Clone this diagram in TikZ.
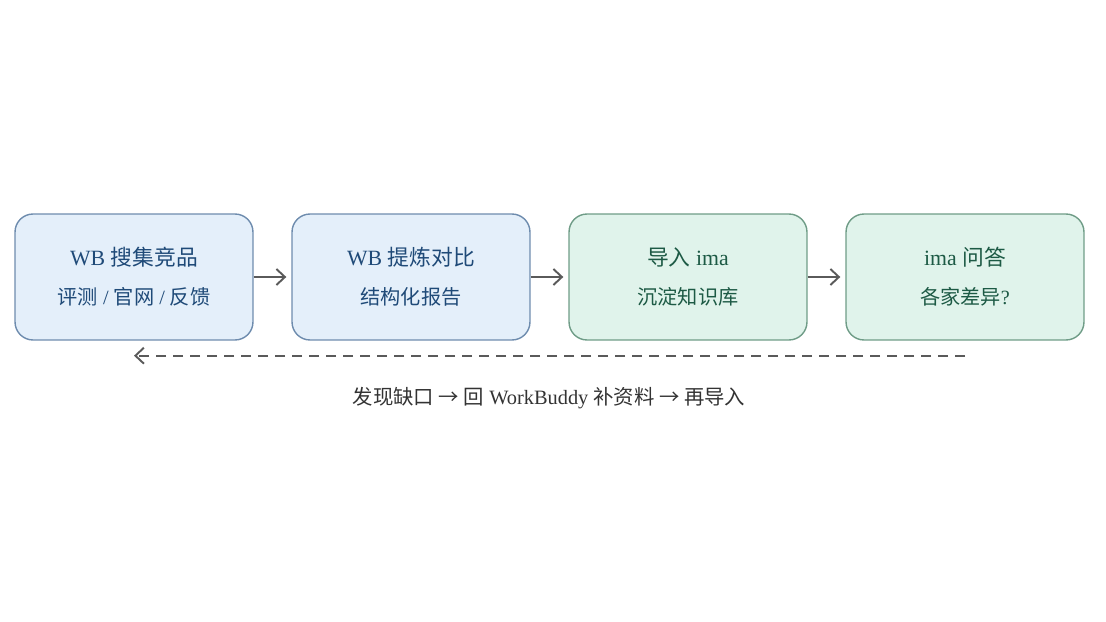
\documentclass[tikz,border=0pt]{standalone}
\usepackage{fontspec}
\setmainfont{Liberation Serif}
\newfontfamily\cjk{Noto Sans CJK SC}
\usetikzlibrary{arrows.meta}
\definecolor{bfill}{HTML}{E4EFFA}
\definecolor{bdraw}{HTML}{6E8CAE}
\definecolor{btext}{HTML}{1F4A78}
\definecolor{gfill}{HTML}{E0F3EB}
\definecolor{gdraw}{HTML}{6F9C87}
\definecolor{gtext}{HTML}{1D5A45}
\definecolor{arr}{HTML}{5A5A5A}
\definecolor{lbl}{HTML}{333333}
\tikzset{
  box/.style={rounded corners=0.36cm, minimum width=4.76cm, minimum height=2.52cm, line width=0.8pt, inner sep=0pt},
  bluebox/.style={box, fill=bfill, draw=bdraw},
  greenbox/.style={box, fill=gfill, draw=gdraw},
  ttl/.style={font=\fontsize{12.4pt}{14pt}\selectfont, inner sep=0pt},
  sub/.style={font=\fontsize{11.5pt}{13pt}\selectfont, inner sep=0pt},
  note/.style={font=\fontsize{11.6pt}{13pt}\selectfont, inner sep=0pt},
  flow/.style={draw=arr, line width=1.1pt, -{Straight Barb[length=1.7mm,width=3.2mm,line width=1.1pt]}},
  loop/.style={draw=arr, line width=1.1pt, dash pattern=on 0.2cm off 0.14cm, -{Straight Barb[length=1.7mm,width=3.2mm,line width=1.1pt]}}
}
\begin{document}
\begin{tikzpicture}[x=0.02cm,y=-0.02cm]
\useasboundingbox (0,0) rectangle (1106,622);
\node[bluebox]  (b1) at (134,277) {};
\node[bluebox]  (b2) at (411,277) {};
\node[greenbox] (b3) at (688,277) {};
\node[greenbox] (b4) at (965,277) {};

\node[ttl, text=btext] (t1) at (134,257) {WB {\cjk 搜集竞品}};
\node[sub, text=btext] (s1) at (134,297) {{\cjk 评测} / {\cjk 官网} / {\cjk 反馈}};
\node[ttl, text=btext] (t2) at (411,257) {WB {\cjk 提炼对比}};
\node[sub, text=btext] (s2) at (411,297) {\cjk 结构化报告};
\node[ttl, text=gtext] (t3) at (688,257) {{\cjk 导入} ima};
\node[sub, text=gtext] (s3) at (688,297) {\cjk 沉淀知识库};
\node[ttl, text=gtext] (t4) at (965,257) {ima {\cjk 问答}};
\node[sub, text=gtext] (s4) at (965,297) {{\cjk 各家差异}?};

\draw[flow, shorten >=0.1cm] (b1.east) -- (b2.west);
\draw[flow, shorten >=0.1cm] (b2.east) -- (b3.west);
\draw[flow, shorten >=0.1cm] (b3.east) -- (b4.west);

\coordinate (ls) at ([yshift=-0.3cm]b4.south);
\coordinate (le) at ([yshift=-0.3cm]b1.south);
\draw[loop] (ls) -- (le);

\node[note, text=lbl] (lab) at (549,398) {{\cjk 发现缺口 → 回} WorkBuddy {\cjk 补资料 → 再导入}};
\end{tikzpicture}
\end{document}
